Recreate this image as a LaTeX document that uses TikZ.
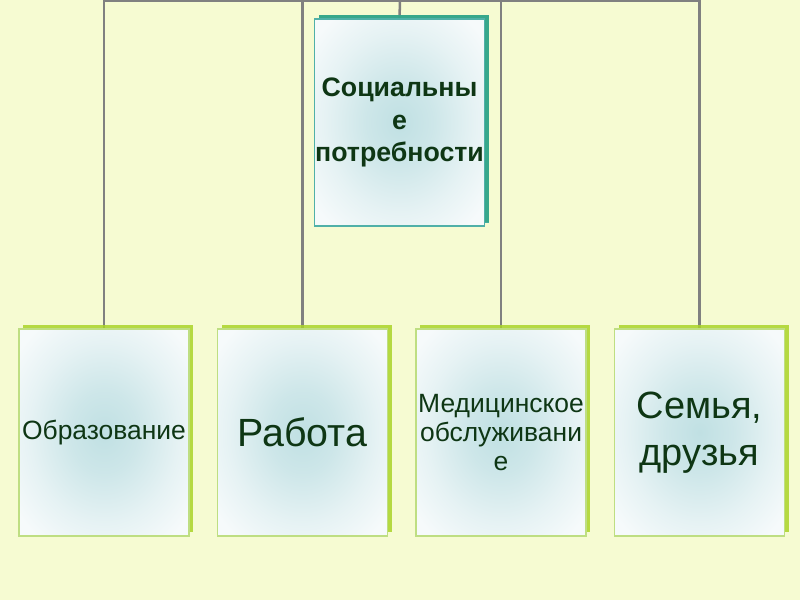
\documentclass[tikz,border=0pt]{standalone}
\usepackage{fontspec}
\setmainfont{Liberation Sans}
\usepackage{xcolor}
\usepackage{tikz}
\usetikzlibrary{positioning, shadows, backgrounds}

\definecolor{pagebg}{RGB}{246,251,210}
\definecolor{inkgreen}{RGB}{14,54,20}
\definecolor{boxcore}{RGB}{192,224,227}
\definecolor{boxrim}{RGB}{246,250,251}
\definecolor{leafedge}{RGB}{190,222,130}
\definecolor{leafglow}{RGB}{170,212,40}
\definecolor{topedge}{RGB}{80,176,168}
\definecolor{topglow}{RGB}{34,160,152}
\definecolor{linkgray}{RGB}{128,128,128}

\pgfdeclareradialshading{boxglow}{\pgfpoint{0bp}{0bp}}{color(0bp)=(boxcore); color(10bp)=(boxcore!75!boxrim); color(22bp)=(boxcore!30!boxrim); color(32bp)=(boxrim); color(50bp)=(boxrim)}

\begin{document}
\begin{tikzpicture}[
    x={(0.025cm,0)}, y={(0,-0.025cm)},
    node distance=0.68cm,
    leafbox/.style={rectangle, draw=leafedge, line width=0.9pt, shading=boxglow, minimum width=4.25cm, minimum height=5.175cm, inner sep=0pt, align=center, text=inkgreen, drop shadow={shadow xshift=3pt, shadow yshift=3pt, fill=leafglow, opacity=0.85}},
    topbox/.style={leafbox, draw=topedge, drop shadow={shadow xshift=3pt, shadow yshift=2.5pt, fill=topglow, opacity=0.85}, font=\fontsize{19}{23}\selectfont\bfseries},
    link/.style={draw=linkgray, line width=1.8pt}
]
\useasboundingbox (0,0) rectangle (800,600);

\node[topbox] (social) at (399.5,122.5) {Социальны\\е\\потребности};
\node[leafbox, font=\fontsize{18.8}{20.5}\selectfont] (edu) at (104,432.5) {Образование};
\node[leafbox, right=of edu, font=\fontsize{28}{33}\selectfont] (work) {Работа};
\node[leafbox, right=of work, font=\fontsize{18.8}{20.5}\selectfont] (med) {Медицинское\\обслуживани\\е};
\node[leafbox, right=of med, font=\fontsize{27}{33.5}\selectfont] (family) {Семья,\\друзья};

\coordinate (hub) at (400,1);

\begin{scope}[on background layer]
\fill[pagebg] (0,0) rectangle (800,600);
\draw[link] (social.north) -- (hub);
\draw[link] (edu.north) -- (edu.north |- hub) -- (family.north |- hub) -- (family.north);
\draw[link] (work.north) -- (work.north |- hub);
\draw[link] (med.north) -- (med.north |- hub);
\end{scope}

\end{tikzpicture}
\end{document}
